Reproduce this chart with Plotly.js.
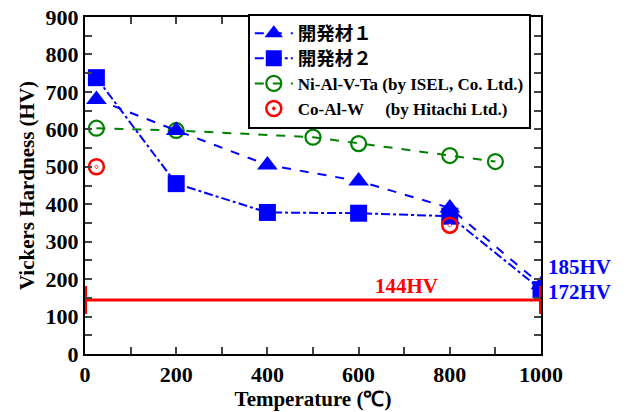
<!DOCTYPE html>
<html><head><meta charset="utf-8">
<script src="https://cdn.plot.ly/plotly-3.0.1.min.js"></script>
<style>body{margin:0;background:#fff}#c{width:627px;height:412px}</style>
</head><body><div id="c"></div>
<script>
// Data
const dev1Temp = [25, 200, 400, 600, 800, 1000];
const dev1HV   = [680, 597, 505, 462, 390, 185];
const dev2Temp = [25, 200, 400, 600, 800, 1000];
const dev2HV   = [738, 455, 378, 376, 368, 172];
const niTemp   = [25, 200, 500, 600, 800, 900];
const niHV     = [603, 597, 579, 562, 530, 514];
const coTemp   = [25, 800];
const coHV     = [500, 344];
const refTemp  = [0, 1000];
const refHV    = [144, 144];
const names = ['開発材１', '開発材２', 'Ni-Al-V-Ta (by ISEL, Co. Ltd.)', 'Co-Al-W&nbsp;&nbsp;&nbsp;&nbsp;&nbsp;(by Hitachi Ltd.)'];
const labels = ['185HV', '172HV', '144HV'];

const blue = '#0000ff', green = '#008000', red = '#ff0000';
const jp = s => '<span style="font-family:\'Noto Sans CJK JP\';font-size:18.5px">' + s + '</span>';

const traces = [
  {x: niTemp, y: niHV, name: names[2], mode: 'lines+markers', legendrank: 3,
   line: {color: green, dash: 'dash', width: 2},
   marker: {symbol: 'circle-open', size: 15, color: green, line: {width: 2.2, color: green}}},
  {x: dev1Temp, y: dev1HV, name: jp(names[0]), mode: 'lines+markers', legendrank: 1,
   line: {color: blue, dash: 'dash', width: 2},
   marker: {symbol: 'triangle-up', size: 18, color: blue}},
  {x: dev2Temp, y: dev2HV, name: jp(names[1]), mode: 'lines+markers', legendrank: 2,
   line: {color: blue, dash: 'dashdot', width: 2},
   marker: {symbol: 'square', size: 17, color: blue}},
  {x: coTemp, y: coHV, name: names[3], mode: 'markers', legendrank: 4,
   marker: {symbol: 'circle-open-dot', size: 15, color: red, line: {width: 2.5, color: red}}},
  {x: coTemp, y: coHV, mode: 'markers', showlegend: false, hoverinfo: 'skip',
   marker: {symbol: 'circle', size: 2.5, color: '#fff', line: {width: 0}}},
  {x: refTemp, y: refHV, mode: 'lines+markers', showlegend: false,
   line: {color: red, width: 3},
   marker: {symbol: 'line-ns-open', size: 20, color: red, line: {width: 4, color: red}}}
];

const tf = {family: 'Liberation Serif', size: 22, color: '#000', weight: 'bold'};
const ttf = {family: 'Liberation Serif', size: 21, color: '#000', weight: 'bold'};
const layout = {
  width: 627, height: 412,
  margin: {l: 85, r: 86, t: 17, b: 58},
  paper_bgcolor: '#fff', plot_bgcolor: '#fff',
  showlegend: true,
  legend: {x: 0.357, y: 1.01, xanchor: 'left', yanchor: 'top',
    bgcolor: '#fff', bordercolor: '#000', borderwidth: 2,
    font: {family: 'Liberation Serif', size: 17, color: '#000', weight: 'bold'},
    tracegroupgap: 0, itemwidth: 38},
  xaxis: {range: [0, 1000], dtick: 200, ticks: 'inside', ticklen: 7, tickwidth: 1.5,
    minor: {dtick: 100, ticks: 'inside', ticklen: 7, tickwidth: 1.5},
    showgrid: false, zeroline: false, showline: true, linewidth: 2, linecolor: '#000',
    mirror: 'ticks', tickfont: tf,
    title: {text: 'Temperature (℃)', font: ttf, standoff: 1}},
  yaxis: {range: [0, 900], dtick: 100, ticks: 'inside', ticklen: 7, tickwidth: 1.5,
    minor: {dtick: 50, ticks: 'inside', ticklen: 7, tickwidth: 1.5},
    showgrid: false, zeroline: false, showline: true, linewidth: 2, linecolor: '#000',
    mirror: 'ticks', tickfont: tf,
    title: {text: 'Vickers Hardness (HV)', font: ttf, standoff: 5}},
  annotations: [
    {x: 1000, y: dev1HV[5], text: labels[0], xanchor: 'left', yanchor: 'middle', xshift: 5, yshift: 18,
     showarrow: false, font: {family: 'Liberation Serif', size: 21, color: blue, weight: 'bold'}},
    {x: 1000, y: dev2HV[5], text: labels[1], xanchor: 'left', yanchor: 'middle', xshift: 5, yshift: -2,
     showarrow: false, font: {family: 'Liberation Serif', size: 21, color: blue, weight: 'bold'}},
    {x: 705, y: refHV[0], text: labels[2], xanchor: 'center', yanchor: 'bottom', yshift: 0,
     showarrow: false, font: {family: 'Liberation Serif', size: 21, color: red, weight: 'bold'}}
  ]
};
Plotly.newPlot('c', traces, layout, {displayModeBar: false});
</script></body></html>
